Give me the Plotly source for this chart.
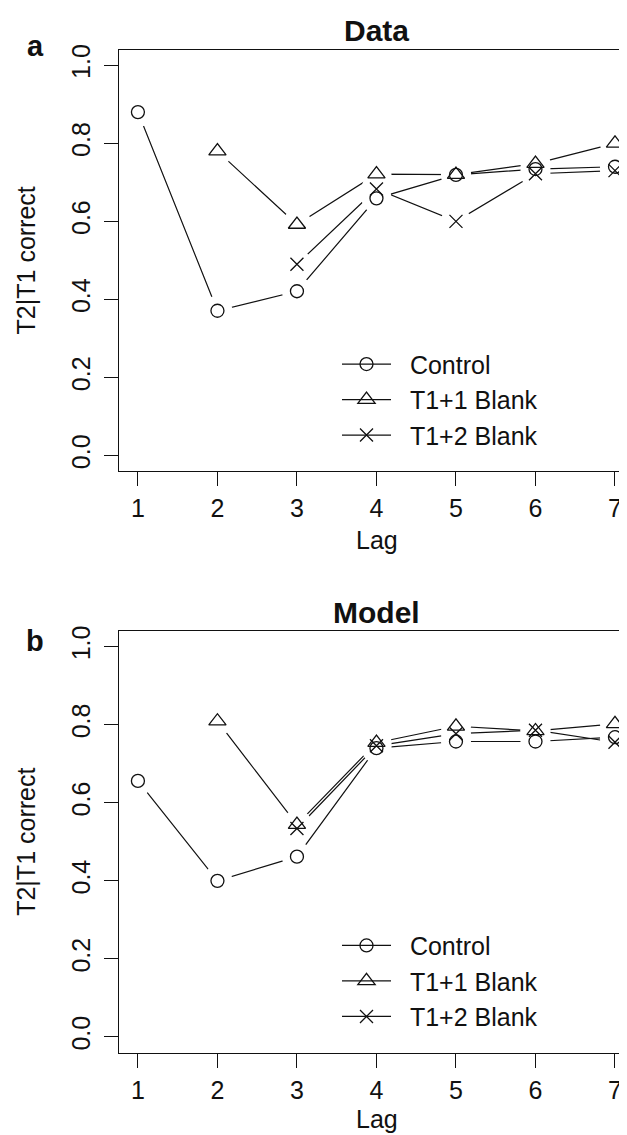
import plotly.graph_objects as go

# ---------------- data ----------------
lags = [1, 2, 3, 4, 5, 6, 7]
series_names = ["Control", "T1+1 Blank", "T1+2 Blank"]

data_control = [0.880, 0.371, 0.421, 0.659, 0.719, 0.734, 0.740]
data_t1p1 = [None, 0.780, 0.592, 0.721, 0.720, 0.748, 0.800]
data_t1p2 = [None, None, 0.490, 0.683, 0.600, 0.722, 0.730]

model_control = [0.656, 0.400, 0.462, 0.740, 0.757, 0.757, 0.768]
model_t1p1 = [None, 0.809, 0.544, 0.754, 0.796, 0.784, 0.802]
model_t1p2 = [None, None, 0.534, 0.746, 0.777, 0.786, 0.755]

panel_titles = ["Data", "Model"]
panel_letters = ["a", "b"]
x_title = "Lag"
y_title = "T2|T1 correct"
y_ticks = [0.0, 0.2, 0.4, 0.6, 0.8, 1.0]

# ---------------- style ----------------
OFFX = 8      # page body margin
OFFY = 11.5   # body margin + small vertical correction
W, H = 627 - OFFX, 1135 - 8
FONT = "Liberation Sans, Arial, Helvetica, sans-serif"
INK = "#111111"
symbols = ["circle-open", "triangle-up-open", "x-thin-open"]
sizes = [13, 15, 13]
NB = "\u00a0\u00a0"

def py(p):  # page pixel-from-top -> paper
    return 1 - (p - OFFY) / H

def px(p):
    return (p - OFFX) / W

panels = [
    dict(vals=[data_control, data_t1p1, data_t1p2], top=48.3, bot=471.7, xa="x", ya="y", lg="legend"),
    dict(vals=[model_control, model_t1p1, model_t1p2], top=632.3, bot=1055.7, xa="x2", ya="y2", lg="legend2"),
]

fig = go.Figure()

for pi, p in enumerate(panels):
    for si, vals in enumerate(p["vals"]):
        fig.add_trace(go.Scatter(
            x=lags, y=vals, mode="lines+markers", name=NB + series_names[si],
            xaxis=p["xa"], yaxis=p["ya"], legend=p["lg"],
            line=dict(color=INK, width=1.2),
            marker=dict(symbol=symbols[si], size=sizes[si], color=INK, line=dict(width=1.3, color=INK)),
            connectgaps=False, hoverinfo="skip",
        ))
    for si, vals in enumerate(p["vals"]):
        fig.add_trace(go.Scatter(
            x=lags, y=vals, mode="markers", showlegend=False,
            xaxis=p["xa"], yaxis=p["ya"],
            marker=dict(symbol="circle", size=30, color="white", line=dict(width=0)),
            hoverinfo="skip",
        ))
    for si, vals in enumerate(p["vals"]):
        fig.add_trace(go.Scatter(
            x=lags, y=vals, mode="markers", showlegend=False,
            xaxis=p["xa"], yaxis=p["ya"],
            marker=dict(symbol=symbols[si], size=sizes[si], color=INK, line=dict(width=1.3, color=INK)),
            hoverinfo="skip",
        ))

x_left_px = 119.0
xaxis_common = dict(
    range=[0.762, 7.151], domain=[px(x_left_px), 1.0],
    tickvals=lags, ticktext=[str(v) for v in lags],
    showline=True, linecolor=INK, linewidth=1.3, mirror=True,
    ticks="outside", ticklen=14, tickwidth=1.2, tickcolor=INK,
    showgrid=False, zeroline=False,
    tickfont=dict(size=25, color=INK, family=FONT),
    ticklabelstandoff=1,
)
yaxis_common = dict(
    range=[-0.04, 1.04],
    tickvals=y_ticks, ticktext=[f"{v:.1f}" for v in y_ticks],
    tickangle=-90,
    showline=True, linecolor=INK, linewidth=1.3, mirror=False,
    ticks="outside", ticklen=14, tickwidth=1.2, tickcolor=INK,
    showgrid=False, zeroline=False,
    tickfont=dict(size=25, color=INK, family=FONT),
    ticklabelstandoff=4,
)

legend_common = dict(xanchor="left", yanchor="middle", bgcolor="rgba(0,0,0,0)", borderwidth=0,
                     itemwidth=49, font=dict(size=25, family=FONT, color=INK), tracegroupgap=0)

layout = dict(
    width=W, height=H, margin=dict(l=0, r=0, t=0, b=0),
    paper_bgcolor="white", plot_bgcolor="white",
    font=dict(family=FONT, color=INK, size=25),
    xaxis=dict(xaxis_common, anchor="y"),
    yaxis=dict(yaxis_common, anchor="x", domain=[py(panels[0]["bot"]), py(panels[0]["top"])]),
    xaxis2=dict(xaxis_common, anchor="y2"),
    yaxis2=dict(yaxis_common, anchor="x2", domain=[py(panels[1]["bot"]), py(panels[1]["top"])]),
    legend=dict(legend_common, x=px(337), y=py(400)),
    legend2=dict(legend_common, x=px(337), y=py(400 + 584)),
    showlegend=True,
)
fig.update_layout(**layout)

x_center = px((x_left_px + 634) / 2)
annots = []
for pi, p in enumerate(panels):
    off = 0 if pi == 0 else 584
    annots.append(dict(text=f"<b>{panel_titles[pi]}</b>", x=x_center, y=py(29.3 + off),
                       xref="paper", yref="paper", showarrow=False, xanchor="center", yanchor="middle",
                       font=dict(size=30, family=FONT, color=INK)))
    annots.append(dict(text=f"<b>{panel_letters[pi]}</b>", x=px(35), y=py([45, 642][pi]),
                       xref="paper", yref="paper", showarrow=False, xanchor="center", yanchor="middle",
                       font=dict(size=29, family=FONT, color=INK)))
    annots.append(dict(text=x_title, x=x_center, y=py([540.5, 1122][pi]),
                       xref="paper", yref="paper", showarrow=False, xanchor="center", yanchor="middle",
                       font=dict(size=25, family=FONT, color=INK)))
    annots.append(dict(text=y_title, x=px(26), y=py((p["top"] + p["bot"]) / 2),
                       xref="paper", yref="paper", showarrow=False, xanchor="center", yanchor="middle",
                       textangle=-90, font=dict(size=25, family=FONT, color=INK)))
fig.update_layout(annotations=annots)

fig.write_html("out.html")
